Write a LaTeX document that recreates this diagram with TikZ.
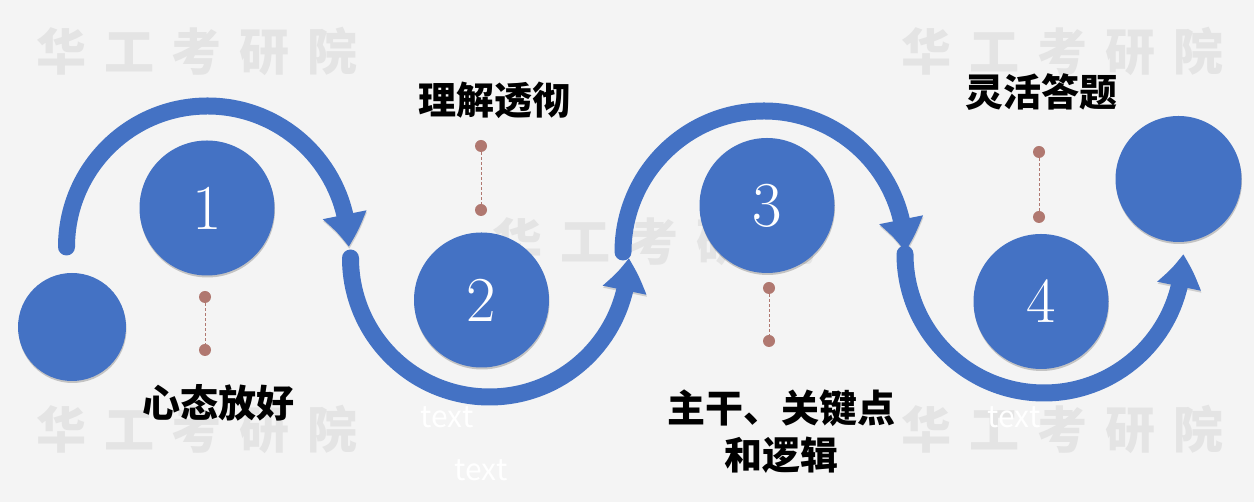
\documentclass[tikz,border=0pt]{standalone}
\usepackage{fontspec}
\newfontfamily\cjk{Noto Sans CJK SC}
\usetikzlibrary{arrows.meta,bending,shadows}
\definecolor{bandblue}{HTML}{4472C4}
\definecolor{beadbrown}{HTML}{B07870}
\definecolor{paper}{HTML}{F4F4F4}
\definecolor{stampgray}{HTML}{E4E4E4}
\newcommand\stampword{华\hskip18pt 工\hskip18pt 考\hskip18pt 研\hskip18pt 院}

\begin{document}
\begin{tikzpicture}[x=1pt,y=1pt,
  stamptext/.style={font=\cjk\bfseries\fontsize{50}{50}\selectfont,text=stampgray,inner sep=0pt},
  disc/.style={circle,fill=bandblue,inner sep=0pt,minimum size=135pt,text=white,
    font=\fontsize{64}{64}\selectfont,
    drop shadow={shadow xshift=.5pt,shadow yshift=-2pt,opacity=.2,fill=black}},
  band/.style={draw=bandblue,line width=17pt,line cap=round,
    -{Triangle[width=42pt,length=33pt,bend]},
    preaction={draw=black,opacity=.15,transform canvas={shift={(.5pt,-2pt)}}}},
  bead/.style={circle,fill=beadbrown,inner sep=0pt,minimum size=12pt},
  stem/.style={draw=beadbrown,line width=1pt,dash pattern=on 3pt off 2pt},
  caption/.style={font=\cjk\bfseries\fontsize{38}{47}\selectfont,align=center,inner sep=0pt},
  hint/.style={font=\cjk\fontsize{30}{30}\selectfont,text=white,inner sep=0pt}]
\useasboundingbox (0,0) rectangle (1254,502);
\fill[paper] (0,0) rectangle (1254,502);
\node[stamptext] (w1) at (197,451) {\stampword};
\node[stamptext] (w2) at (1062,451) {\stampword};
\node[stamptext] (w3) at (653,261) {\stampword};
\node[stamptext] (w4) at (197,73) {\stampword};
\node[stamptext] (w5) at (1062,73) {\stampword};
\coordinate (a1) at (66.5,255);
\coordinate (a2) at (350.5,244);
\coordinate (a3) at (623,250);
\coordinate (a4) at (905,248);
\draw[band] (a1) arc[start angle=180,end angle=0,radius=141pt];
\draw[band] (a2) arc[start angle=180,end angle=360,radius=139pt];
\draw[band] (a3) arc[start angle=180,end angle=0,radius=141pt];
\draw[band] (a4) arc[start angle=180,end angle=360,radius=139pt];
\node[disc,minimum size=108pt] (c0) at (72,175) {};
\node[disc] (c1) at (207,294) {1};
\node[disc] (c2) at (481.5,202) {2};
\node[disc] (c3) at (767,296.5) {3};
\node[disc] (c4) at (1041,200.5) {4};
\node[disc,minimum size=126pt] (c5) at (1178.5,323) {};
\node[bead] (d1a) at (205,205) {};
\node[bead] (d1b) at (205,152) {};
\draw[stem] (d1a) -- (d1b);
\node[bead] (d2a) at (481,356) {};
\node[bead] (d2b) at (481,292) {};
\draw[stem] (d2a) -- (d2b);
\node[bead] (d3a) at (769,214) {};
\node[bead] (d3b) at (769,161) {};
\draw[stem] (d3a) -- (d3b);
\node[bead] (d4a) at (1039,350) {};
\node[bead] (d4b) at (1039,285) {};
\draw[stem] (d4a) -- (d4b);
\node[caption] (l1) at (218,99) {心态放好};
\node[caption] (l2) at (494,402) {理解透彻};
\node[caption] (l3) at (781,70.5) {主干、关键点\\和逻辑};
\node[caption] (l4) at (1041,410) {灵活答题};
\node[hint] (t1) at (447,85) {text};
\node[hint] (t2) at (481,32) {text};
\node[hint] (t3) at (1014,85) {text};
\end{tikzpicture}
\end{document}
